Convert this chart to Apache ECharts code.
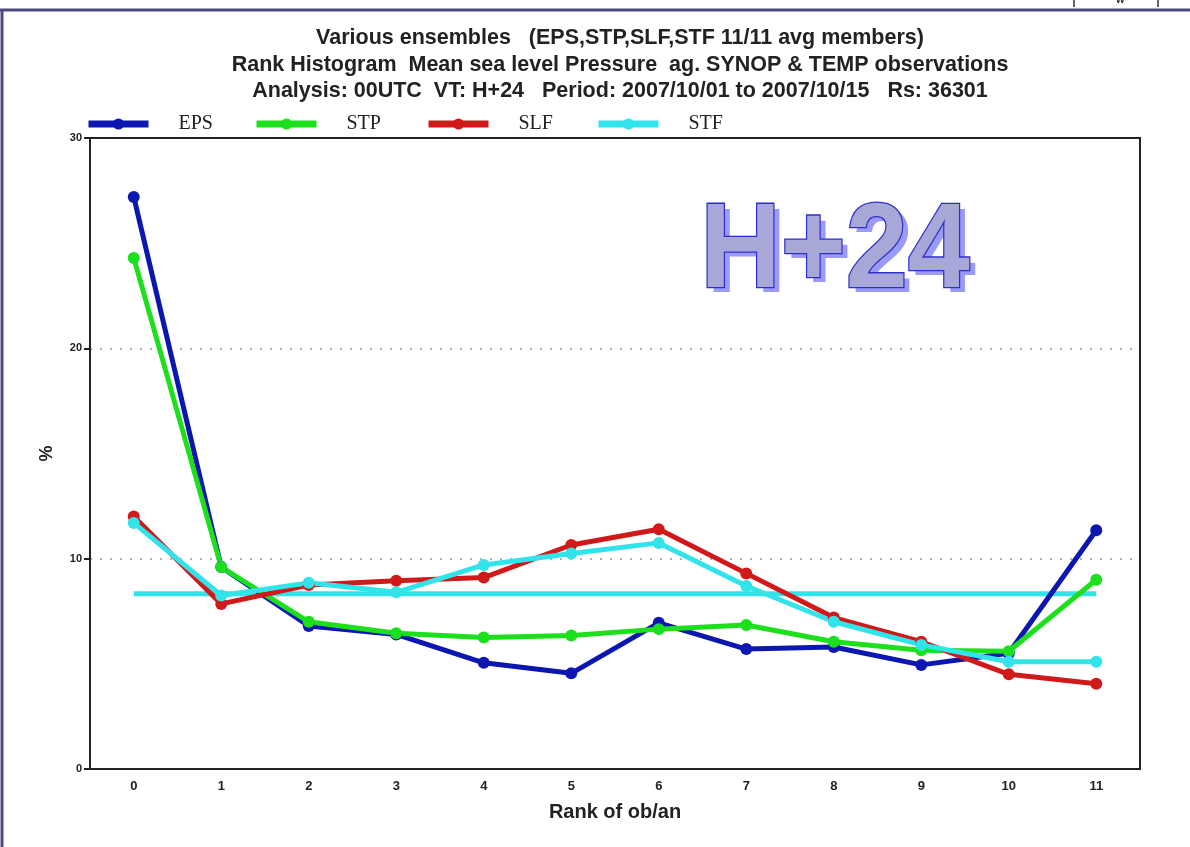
<!DOCTYPE html>
<html>
<head>
<meta charset="utf-8">
<script src="https://cdn.jsdelivr.net/npm/echarts@6/dist/echarts.min.js"></script>
<style>
html,body{margin:0;padding:0;background:#fff;}
#chart{width:1190px;height:847px;}
</style>
</head>
<body>
<div id="chart"></div>
<script>
// ---- data ----
var ranks = ['0','1','2','3','4','5','6','7','8','9','10','11'];
var eps = [27.2, 9.6, 6.8, 6.4, 5.05, 4.55, 6.95, 5.7, 5.8, 4.95, 5.5, 11.35];
var stp = [24.3, 9.6, 7.0, 6.45, 6.25, 6.35, 6.65, 6.85, 6.05, 5.65, 5.6, 9.0];
var slf = [12.0, 7.85, 8.75, 8.95, 9.1, 10.65, 11.4, 9.3, 7.2, 6.05, 4.5, 4.05];
var stf = [11.7, 8.25, 8.85, 8.4, 9.7, 10.25, 10.75, 8.7, 7.0, 5.9, 5.1, 5.1];
var uniform = [8.33, 8.33, 8.33, 8.33, 8.33, 8.33, 8.33, 8.33, 8.33, 8.33, 8.33, 8.33];
var yTicks = [0, 10, 20, 30];
var seriesNames = ['EPS', 'STP', 'SLF', 'STF'];
var titleLines = [
  'Various ensembles   (EPS,STP,SLF,STF 11/11 avg members)',
  'Rank Histogram  Mean sea level Pressure  ag. SYNOP & TEMP observations',
  'Analysis: 00UTC  VT: H+24   Period: 2007/10/01 to 2007/10/15   Rs: 36301'
];
var colors = ['#0b17b0', '#1de01d', '#d01a1a', '#33e3ea'];

var chart = echarts.init(document.getElementById('chart'));

function lineSeries(name, data, color) {
  return {
    name: name, type: 'line', data: data,
    symbol: 'circle', symbolSize: 12,
    lineStyle: {color: color, width: 5},
    itemStyle: {color: color},
    z: 3
  };
}

var legendLefts = [80, 248, 420, 590];
var legends = seriesNames.map(function(n, i){
  return {
    data: [n], left: legendLefts[i], top: 109,
    itemWidth: 60, itemHeight: 14, itemGap: 30,
    lineStyle: {width: 7},
    textStyle: {fontFamily: 'Liberation Serif', fontSize: 20, color: '#222', padding: [0,0,0,25]},
    selectedMode: false
  };
});

var H24 = 'H+24';
var option = {
  backgroundColor: '#ffffff',
  animation: false,
  title: {
    text: titleLines.join('\n'),
    left: 615, textAlign: 'center', top: 20,
    textStyle: {fontFamily: 'Liberation Sans', fontWeight: 'bold', fontSize: 21.5, color: '#222', lineHeight: 26.5}
  },
  legend: legends,
  grid: {left: 90, top: 138, right: 50, bottom: 78, show: true, borderColor: '#222', borderWidth: 2, backgroundColor: 'transparent'},
  xAxis: {
    type: 'category', data: ranks, boundaryGap: true,
    axisLine: {lineStyle: {color: '#222', width: 2}},
    axisTick: {alignWithLabel: true, length: 6, lineStyle: {color: '#222', width: 2}},
    axisLabel: {fontFamily: 'Liberation Sans', fontWeight: 'bold', fontSize: 13, color: '#222', margin: 11},
    name: 'Rank of ob/an', nameLocation: 'middle', nameGap: 33,
    nameTextStyle: {fontFamily: 'Liberation Sans', fontWeight: 'bold', fontSize: 20, color: '#222'}
  },
  yAxis: {
    type: 'value', min: yTicks[0], max: yTicks[yTicks.length-1], interval: 10,
    axisLine: {show: true, lineStyle: {color: '#222', width: 2}},
    axisTick: {show: true, length: 6, lineStyle: {color: '#222', width: 2}},
    axisLabel: {fontFamily: 'Liberation Sans', fontWeight: 'bold', fontSize: 11, color: '#222', margin: 8},
    splitLine: {show: true, showMinLine: false, showMaxLine: false, lineStyle: {color: '#999', type: [2, 8], width: 1.5}},
    name: '%', nameLocation: 'middle', nameGap: 34, nameRotate: 90,
    nameTextStyle: {fontFamily: 'Liberation Sans', fontWeight: 'bold', fontSize: 18, color: '#222'}
  },
  graphic: [
    {type: 'line', shape: {x1: 0, y1: 10, x2: 1190, y2: 10}, style: {stroke: '#4b4b80', lineWidth: 3}},
    {type: 'line', shape: {x1: 2, y1: 10, x2: 2, y2: 847}, style: {stroke: '#4b4b80', lineWidth: 3}},
    {type: 'line', shape: {x1: 1074, y1: 0, x2: 1074, y2: 7}, style: {stroke: '#333', lineWidth: 1.5}},
    {type: 'line', shape: {x1: 1158, y1: 0, x2: 1158, y2: 7}, style: {stroke: '#333', lineWidth: 1.5}},
    {type: 'text', left: 1116, top: -6, style: {text: 'w', font: 'bold 11px Liberation Sans', fill: '#333'}},
    {type: 'text', x: 841, y: 259, z: 9, scaleX: 0.82, scaleY: 0.88,
      style: {text: H24, font: 'bold 136px Liberation Sans', fill: '#9a9afa',
        align: 'center', verticalAlign: 'middle'}},
    {type: 'text', x: 835, y: 254, z: 10, scaleX: 0.82, scaleY: 0.88,
      style: {text: H24, font: 'bold 136px Liberation Sans', fill: '#a8a8d8', stroke: '#2f2fc8', lineWidth: 3,
        align: 'center', verticalAlign: 'middle'}}
  ],
  series: [
    lineSeries(seriesNames[0], eps, colors[0]),
    lineSeries(seriesNames[1], stp, colors[1]),
    lineSeries(seriesNames[2], slf, colors[2]),
    lineSeries(seriesNames[3], stf, colors[3]),
    {name: 'uniform', type: 'line', data: uniform, symbol: 'none', lineStyle: {color: colors[3], width: 5}, itemStyle: {color: colors[3]}, z: 2}
  ]
};
chart.setOption(option);
</script>
</body>
</html>
